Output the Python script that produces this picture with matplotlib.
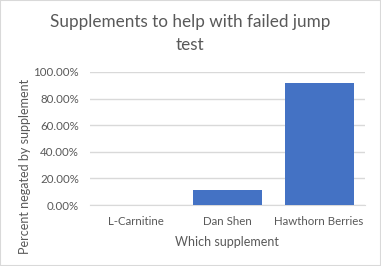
import matplotlib
matplotlib.use("Agg")
import matplotlib.pyplot as plt
from matplotlib.patches import Rectangle
from matplotlib.ticker import FuncFormatter

categories = ["L-Carnitine", "Dan Shen", "Hawthorn Berries"]
values = [0.0, 0.115, 0.917]
yticks = [0.0, 0.2, 0.4, 0.6, 0.8, 1.0]

plt.rcParams['font.family'] = ['Lato', 'DejaVu Sans']
txt = '#595959'

fig = plt.figure(figsize=(3.81, 2.66), dpi=100)
fig.patches.append(Rectangle((0, 0), 1, 1, transform=fig.transFigure, fill=False,
                             edgecolor='#d9d9d9', linewidth=1.5))
ax = fig.add_axes([90/381, 1-205/266, 275/381, 133/266])
ax.bar(range(len(categories)), values, width=0.75, color='#4472c4', zorder=3)
ax.set_xlim(-0.5, len(categories)-0.5)
ax.set_ylim(0, 1.0)
ax.set_yticks(yticks)
ax.yaxis.set_major_formatter(FuncFormatter(lambda v, p: f"{v*100:.2f}%"))
ax.set_xticks(range(len(categories)))
ax.set_xticklabels(categories)
ax.grid(axis='y', color='#d9d9d9', linewidth=1, zorder=0)
for s in ['top', 'right', 'left']:
    ax.spines[s].set_visible(False)
ax.spines['bottom'].set_color('#d9d9d9')
ax.tick_params(axis='both', length=0, labelsize=8.3, labelcolor=txt)
ax.tick_params(axis='y', pad=8)
ax.tick_params(axis='x', pad=8)
fig.text(227/381, 1-242/266, "Which supplement", ha='center', va='center',
         fontsize=9, color=txt)
fig.text(25/381, 1-166/266, "Percent negated by supplement", ha='center', va='center',
         rotation=90, fontsize=9, color=txt)
fig.text(190/381, 1-22/266, "Supplements to help with failed jump", ha='center', va='center',
         fontsize=12.3, color=txt)
fig.text(190/381, 1-45/266, "test", ha='center', va='center',
         fontsize=12.3, color=txt)
fig.savefig("out.png", dpi=100)
